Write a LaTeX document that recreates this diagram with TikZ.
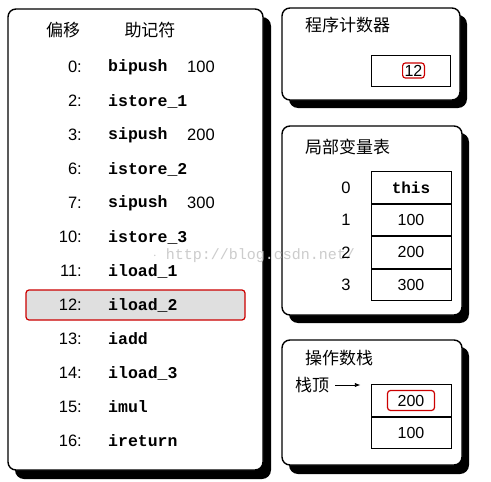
\documentclass[tikz,border=0pt]{standalone}
\usepackage{fontspec}
\setmainfont{Liberation Serif}
\setsansfont{Liberation Sans}
\setmonofont{Liberation Mono}
\newfontfamily\cjk{Noto Sans CJK SC}
\usetikzlibrary{arrows.meta,positioning}

\begin{document}
\begin{tikzpicture}[
  x=1pt, y=-1pt,
  node distance=0pt and 0pt,
  panel/.style={draw, line width=1.4pt, rounded corners=8pt, fill=white},
  shade/.style={fill=black, rounded corners=9pt},
  title/.style={font=\cjk\fontsize{17}{17}\selectfont, inner sep=0pt},
  off/.style={font=\sffamily\fontsize{16.5}{16.5}\selectfont, anchor=east, inner sep=0pt},
  op/.style={font=\ttfamily\bfseries\fontsize{16.5}{16.5}\selectfont, anchor=west, inner sep=0pt},
  arg/.style={font=\sffamily\fontsize{16.5}{16.5}\selectfont, anchor=west, inner sep=0pt},
  cell/.style={draw, line width=0.9pt, minimum width=80pt, minimum height=31.5pt,
               inner sep=0pt, font=\sffamily\fontsize{16}{16}\selectfont},
  redbox/.style={draw=red!80!black, line width=1.2pt, rounded corners=3pt},
  arr/.style={-{Latex[length=2mm]}, thick}
]
\useasboundingbox (0,0) rectangle (491,482);

% panels with their shadows
\fill[shade] (15,17) rectangle (271,479);
\draw[panel] (8,9) rectangle (263,470);
\fill[shade] (289,15) rectangle (467,108);
\draw[panel] (282,8) rectangle (460,100);
\fill[shade] (289,133) rectangle (469,323);
\draw[panel] (282,126) rectangle (462,315);
\fill[shade] (289,347) rectangle (469,474);
\draw[panel] (282,340) rectangle (462,465);

% watermark
\node[font=\ttfamily\fontsize{15}{15}\selectfont, text=gray!40, inner sep=0pt] (wm) at (254,256) {$\cdot$ http://blog.csdn.net/};

% bytecode listing
\node[title] (hoff) at (63,30) {偏移};
\node[title] (hmn) at (150,30) {助记符};
\draw[redbox, fill=gray!25] (26,290) rectangle (245,320);
\foreach \o/\m/\a [count=\i] in {0/bipush/100, 2/istore\_1/, 3/sipush/200, 6/istore\_2/,
    7/sipush/300, 10/istore\_3/, 11/iload\_1/, 12/iload\_2/, 13/iadd/, 14/iload\_3/,
    15/imul/, 16/ireturn/} {
  \node[off] (off\i) at (82,{67+34*(\i-1)}) {\o:};
  \node[op] (op\i) at (108,{67+34*(\i-1)}) {\m};
  \node[arg] (arg\i) at (187,{67+34*(\i-1)}) {\a};
}

% program counter
\node[title, anchor=west] (pct) at (305,25) {程序计数器};
\node[cell, minimum width=79pt, minimum height=31pt] (pc) at (410.5,70.5) {};
\node[redbox, font=\sffamily\fontsize{16}{16}\selectfont, inner sep=2pt] (pcval) at (413.5,70.5) {12};

% local variables
\node[title, anchor=west] (lvt) at (305,147) {局部变量表};
\node[cell, font=\ttfamily\bfseries\fontsize{16}{16}\selectfont] (lv0) at (411,187.5) {this};
\node[cell] (lv1) [below=of lv0] {100};
\node[cell] (lv2) [below=of lv1] {200};
\node[cell] (lv3) [below=of lv2] {300};
\foreach \i in {0,...,3}
  \node[off, anchor=center] (idx\i) at (346,0 |- lv\i) {\i};

% operand stack
\node[title, anchor=west] (ost) at (305,358) {操作数栈};
\node[title, anchor=west] (top) at (295,385) {栈顶};
\node[cell] (st0) at (411,400.5) {};
\node[cell] (st1) [below=of st0] {100};
\node[redbox, minimum width=47pt, minimum height=20pt, inner sep=0pt,
      font=\sffamily\fontsize{16}{16}\selectfont] (stv) at (st0) {200};
\coordinate (ta) at ([xshift=6pt]top.east);
\draw[arr, shorten >=10pt] (ta) -- (ta -| st0.west);
\end{tikzpicture}
\end{document}
